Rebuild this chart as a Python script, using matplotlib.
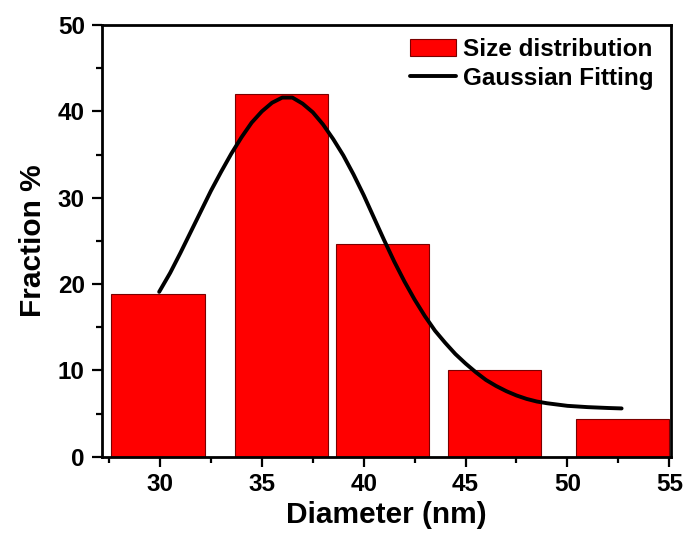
import matplotlib
matplotlib.use("Agg")
import matplotlib.pyplot as plt
from matplotlib.ticker import MultipleLocator

plt.rcParams["font.family"] = ["Liberation Sans", "DejaVu Sans"]
plt.rcParams["font.weight"] = "bold"

# Histogram bars
bar_centers = [29.9, 35.95, 40.93, 46.43, 52.7]
bar_heights = [18.8, 42.0, 24.6, 10.1, 4.4]
bar_width = 4.57

# Gaussian fitting curve
fit_x = [29.96, 30.5, 31.0, 31.5, 32.0, 32.5, 33.0, 33.5, 34.0, 34.5,
         35.0, 35.5, 36.0, 36.5, 37.0, 37.5, 38.0, 38.5, 39.0, 39.5,
         40.0, 40.5, 41.0, 41.5, 42.0, 42.5, 43.0, 43.5, 44.0, 44.5,
         45.0, 45.5, 46.0, 46.5, 47.0, 47.5, 48.0, 48.5, 49.0, 50.0,
         51.0, 52.0, 52.66]
fit_y = [19.1, 21.3, 23.6, 26.0, 28.4, 30.8, 33.0, 35.1, 37.0, 38.7,
         40.0, 41.0, 41.6, 41.6, 40.9, 39.9, 38.5, 36.8, 34.9, 32.7,
         30.3, 27.7, 25.1, 22.6, 20.3, 18.2, 16.3, 14.6, 13.2, 11.9,
         10.8, 9.8, 8.9, 8.2, 7.6, 7.1, 6.7, 6.4, 6.2, 5.9,
         5.75, 5.65, 5.6]

fig = plt.figure(figsize=(6.86, 5.33), dpi=100)
ax = fig.add_axes([0.148, 0.143, 0.830, 0.810])

ax.bar(bar_centers, bar_heights, width=bar_width, color="#ff0000",
       edgecolor="#7a0000", linewidth=0.8, label="Size distribution", zorder=2)
ax.plot(fit_x, fit_y, color="black", linewidth=2.8, label="Gaussian Fitting",
        solid_joinstyle="round", solid_capstyle="round", zorder=3)

ax.set_xlim(27.13, 55.08)
ax.set_ylim(0, 50)
ax.xaxis.set_major_locator(MultipleLocator(5))
ax.xaxis.set_minor_locator(MultipleLocator(2.5))
ax.yaxis.set_major_locator(MultipleLocator(10))
ax.yaxis.set_minor_locator(MultipleLocator(5))

ax.tick_params(which="major", direction="out", length=7, width=1.6,
               labelsize=17.5, pad=5)
ax.tick_params(which="minor", direction="out", length=4, width=1.6)
for lab in ax.get_xticklabels() + ax.get_yticklabels():
    lab.set_fontweight("bold")
for sp in ax.spines.values():
    sp.set_linewidth(2.0)

ax.set_xlabel("Diameter (nm)", fontsize=21.5, fontweight="bold", labelpad=3)
ax.set_ylabel("Fraction %", fontsize=21.5, fontweight="bold", labelpad=8)

handles, labels = ax.get_legend_handles_labels()
order = [labels.index("Size distribution"), labels.index("Gaussian Fitting")]
ax.legend([handles[i] for i in order], [labels[i] for i in order],
          loc="upper right", frameon=False, fontsize=17.5,
          handlelength=1.9, handletextpad=0.3, labelspacing=0.25,
          borderaxespad=0.3, bbox_to_anchor=(1.0, 1.01))

fig.savefig("out.png", dpi=100)
